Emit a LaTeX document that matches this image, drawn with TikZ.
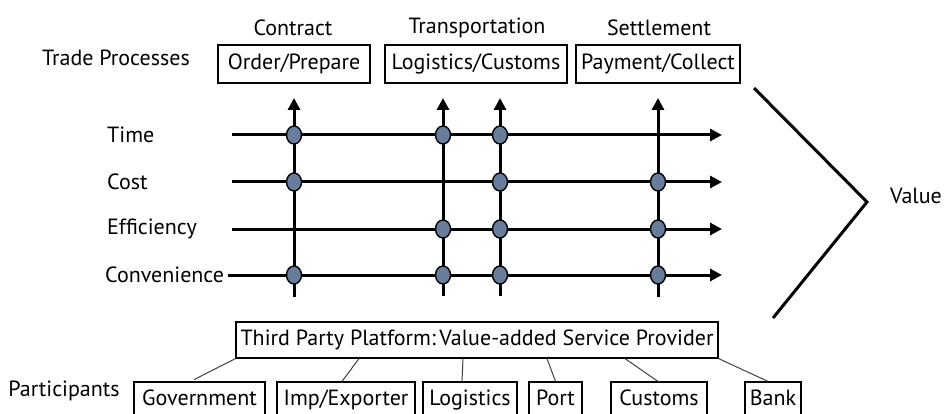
\documentclass[tikz,border=0pt]{standalone}
\usepackage{fontspec}
\setmainfont{PT Sans}
\usepackage{tikz}
\usetikzlibrary{shapes.geometric, arrows.meta}

\definecolor{dotblue}{RGB}{104,124,155}
\tikzset{
 lbl/.style={font=\fontsize{22}{25}\selectfont, inner sep=0pt},
 pbox/.style={lbl, draw, line width=1.2pt, minimum height=38pt, inner sep=0pt, text height=15pt, text depth=4pt},
 axis/.style={line width=3pt, -{Triangle[width=12pt,length=12pt]}},
 hit/.style={ellipse, draw, line width=1.4pt, fill=dotblue, minimum width=15pt, minimum height=18pt, inner sep=0pt},
 link/.style={draw=black!75, line width=1pt}
}

\begin{document}
\begin{tikzpicture}[x=1pt,y=-1pt]
 \useasboundingbox (0,0) rectangle (947,414);
 \clip (0,0) rectangle (947,414);
 % trade processes
 \node[lbl] (tp) at (116,58) {Trade Processes};
 \node[lbl] (contract) at (293,28) {Contract};
 \node[lbl] (transport) at (477,28) {Transportation};
 \node[lbl] (settle) at (659,28) {Settlement};
 \node[pbox, minimum width=152pt] (order) at (294,64) {Order/Prepare};
 \node[pbox, minimum width=182pt] (logcus) at (476,64) {Logistics/Customs};
 \node[pbox, minimum width=164pt] (pay) at (658,64) {Payment/Collect};
 % value axes
 \node[lbl, anchor=west] (time) at (107,135) {Time};
 \node[lbl, anchor=west] (cost) at (107,182) {Cost};
 \node[lbl, anchor=west] (eff) at (107,229) {Efficiency};
 \node[lbl, anchor=west] (conv) at (105,275) {Convenience};
 \coordinate (t0) at (232,135); \coordinate (t1) at (722,135);
 \coordinate (c0) at (232,182); \coordinate (c1) at (722,182);
 \coordinate (e0) at (232,229); \coordinate (e1) at (722,229);
 \coordinate (v0) at (228,275); \coordinate (v1) at (722,275);
 \draw[axis] (t0) -- (t1);
 \draw[axis] (c0) -- (c1);
 \draw[axis] (e0) -- (e1);
 \draw[axis] (v0) -- (v1);
 \coordinate (a0) at (294,297); \coordinate (a1) at (294,98);
 \coordinate (b0) at (443,296); \coordinate (b1) at (443,98);
 \coordinate (d0) at (500,296); \coordinate (d1) at (500,98);
 \coordinate (g0) at (658,297); \coordinate (g1) at (658,98);
 \draw[axis] (a0) -- (a1);
 \draw[axis] (b0) -- (b1);
 \draw[axis] (d0) -- (d1);
 \draw[axis] (g0) -- (g1);
 \node[hit] (ta) at (294,135) {};
 \node[hit] (tb) at (443,135) {};
 \node[hit] (td) at (500,135) {};
 \node[hit] (ca) at (294,182) {};
 \node[hit] (cd) at (500,182) {};
 \node[hit] (cg) at (658,182) {};
 \node[hit] (eb) at (443,229) {};
 \node[hit] (ed) at (500,229) {};
 \node[hit] (eg) at (658,229) {};
 \node[hit] (va) at (294,275) {};
 \node[hit] (vb) at (443,275) {};
 \node[hit] (vd) at (500,275) {};
 \node[hit] (vg) at (658,275) {};
 % value
 \coordinate (vtop) at (754,88);
 \coordinate (vtip) at (867,202);
 \coordinate (vbot) at (773,318);
 \draw[line width=3pt] (vtop) -- (vtip) -- (vbot);
 \node[lbl] (value) at (916,196) {Value};
 % participants
 \node[pbox, minimum width=482pt, minimum height=36pt] (plat) at (477,340) {Third Party Platform:\,Value-added Service Provider};
 \node[lbl] (part) at (64,391) {Participants};
 \node[pbox, minimum width=131pt, minimum height=36pt] (gov) at (199.5,400) {Government};
 \node[pbox, minimum width=138pt, minimum height=36pt] (imp) at (346,400) {Imp/Exporter};
 \node[pbox, minimum width=94pt, minimum height=36pt] (logi) at (470,400) {Logistics};
 \node[pbox, minimum width=53pt, minimum height=36pt] (port) at (555.5,400) {Port};
 \node[pbox, minimum width=96pt, minimum height=36pt] (cust) at (659,400) {Customs};
 \node[pbox, minimum width=56pt, minimum height=36pt] (bank) at (773,400) {Bank};
 \draw[link, shorten >=4pt] (plat.south west) -- ([xshift=-9pt]gov.north);
 \draw[link] ([xshift=-118pt]plat.south) -- ([xshift=-4pt]imp.north);
 \draw[link] ([xshift=-14pt]plat.south) -- ([xshift=-8pt]logi.north);
 \draw[link] ([xshift=70pt]plat.south) -- (port.north);
 \draw[link] ([xshift=148pt]plat.south) -- ([xshift=-1pt]cust.north);
 \draw[link] (plat.south east) -- ([xshift=-5pt]bank.north);
\end{tikzpicture}
\end{document}
